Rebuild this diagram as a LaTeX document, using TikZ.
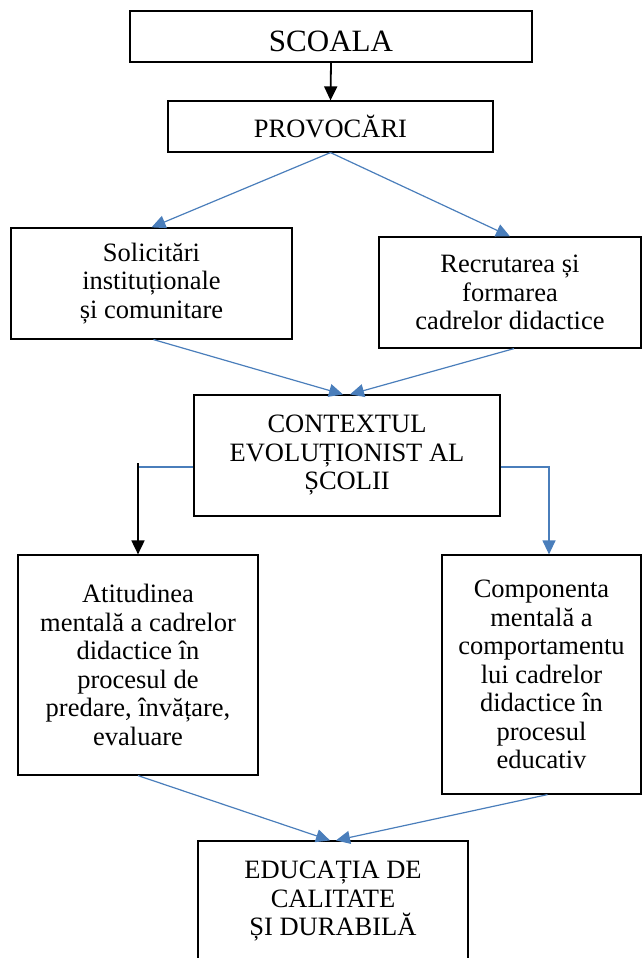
\documentclass[tikz,border=0pt]{standalone}
\usepackage{fontspec}
\setmainfont{Liberation Serif}
\usetikzlibrary{arrows.meta}
\definecolor{linkblue}{HTML}{4A7EBB}

\begin{document}
\begin{tikzpicture}[x=1pt,y=-1pt,>={Triangle[length=14pt,width=13pt]},
  box/.style={draw,line width=1.2pt,inner sep=0pt,align=center,font=\fontsize{26.5}{28.5}\selectfont},
  blink/.style={linkblue,line width=1.2pt},
  klink/.style={black,line width=1.8pt}]
  \useasboundingbox (0,0) rectangle (642,958);
  % boxes
  \node[box,minimum width=402pt,minimum height=51pt,text height=31pt,text depth=0pt,
    font=\fontsize{31}{33}\selectfont] (scoala) at (331,36.5) {SCOALA};
  \node[box,minimum width=325pt,minimum height=51pt,text height=21pt,text depth=0pt] (provo) at (330.5,126.5) {PROVOCĂRI};
  \node[box,minimum width=281pt,minimum height=111pt] (solic) at (151.5,283.5) {Solicitări\\instituționale\\și comunitare};
  \node[box,minimum width=262pt,minimum height=111pt] (recru) at (510,292.5) {Recrutarea și\\formarea\\cadrelor didactice};
  \node[box,minimum width=306pt,minimum height=121pt] (ctx) at (347,455.5) {CONTEXTUL\\EVOLUȚIONIST AL\\ȘCOLII};
  \node[box,minimum width=240pt,minimum height=220pt] (atit) at (138,665) {Atitudinea\\mentală a cadrelor\\didactice în\\procesul de\\predare, învățare,\\evaluare};
  \node[box,minimum width=199pt,minimum height=239pt] (comp) at (541.5,674.5) {Componenta\\mentală a\\comportamentu\\lui cadrelor\\didactice în\\procesul\\educativ};
  \node[box,minimum width=270pt,minimum height=121pt] (edu) at (333,901.5) {EDUCAȚIA DE\\CALITATE\\ȘI DURABILĂ};
  % connectors
  \draw[klink,->] (scoala.south) -- (provo.north);
  \draw[blink,->] (provo.south) -- (solic.north);
  \draw[blink,->] (provo.south) -- (recru.north);
  \draw[blink,->] ([xshift=2pt]solic.south) -- ([xshift=-4pt]ctx.north);
  \draw[blink,->] ([xshift=4pt]recru.south) -- ([xshift=3pt]ctx.north);
  \coordinate (lknee) at (137,467);
  \coordinate (ltop) at (138,463);
  \draw[blink] (ctx.west |- lknee) -- (lknee);
  \draw[klink,->] (ltop) -- (atit.north);
  \coordinate (rknee) at (549,467);
  \draw[blink,->] (ctx.east |- rknee) -- (rknee) -- (rknee |- comp.north);
  \draw[blink,->] (atit.south) -- ([xshift=-3pt]edu.north);
  \draw[blink,->] ([xshift=6pt]comp.south) -- ([xshift=3pt]edu.north);
\end{tikzpicture}
\end{document}
